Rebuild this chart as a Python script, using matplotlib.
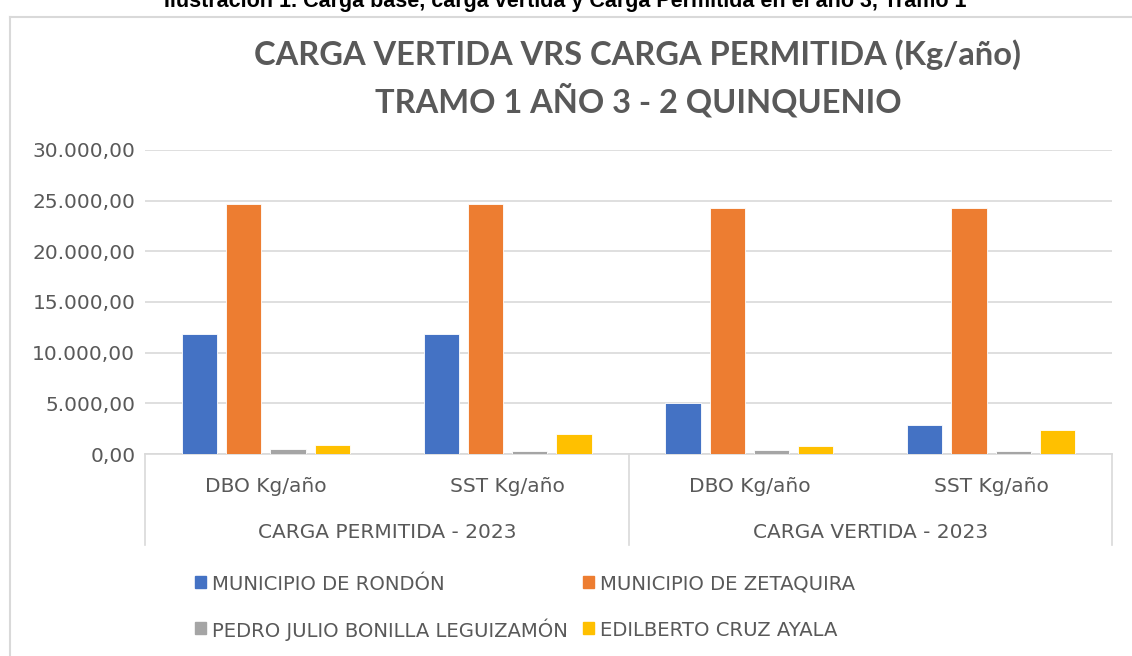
import numpy as np
import matplotlib.pyplot as plt
from matplotlib.patches import Rectangle
from matplotlib.lines import Line2D
from matplotlib.ticker import FuncFormatter

plt.rcParams['font.family'] = ['DejaVu Sans']

# data (Kg/año)
parametros = ["DBO Kg/año", "SST Kg/año", "DBO Kg/año", "SST Kg/año"]
grupos = ["CARGA PERMITIDA - 2023", "CARGA VERTIDA - 2023"]
series = ["MUNICIPIO DE RONDÓN", "MUNICIPIO DE ZETAQUIRA",
          "PEDRO JULIO BONILLA LEGUIZAMÓN", "EDILBERTO CRUZ AYALA"]
rondon = [11850, 11850, 5030, 2890]
zetaquira = [24650, 24650, 24300, 24300]
pedro = [460, 270, 430, 270]
edilberto = [890, 2000, 820, 2400]
colores = ["#4472C4", "#ED7D31", "#A5A5A5", "#FFC000"]

gris = "#595959"
linea = "#D9D9D9"
fs = 14.5
W, H = 1132, 656

fig = plt.figure(figsize=(11.32, 6.56), dpi=100)
ax = fig.add_axes([145/W, 1-454/H, (1112-145)/W, (454-150)/H])

x = np.arange(len(parametros))
paso = 0.183
ancho = 0.145
valores = [rondon, zetaquira, pedro, edilberto]
for i, (vals, c) in enumerate(zip(valores, colores)):
    ax.bar(x + (i - 1.5) * paso, vals, ancho, color=c, zorder=3,
           edgecolor='white', linewidth=0.6)

ax.set_xlim(-0.5, 3.5)
ax.set_ylim(0, 30000)
ax.set_yticks(np.arange(0, 30001, 5000))
fmt = lambda v, p: f"{v:,.2f}".replace(",", "X").replace(".", ",").replace("X", ".")
ax.yaxis.set_major_formatter(FuncFormatter(fmt))
ax.tick_params(axis='y', length=0, labelsize=fs, labelcolor=gris, pad=7)
ax.grid(axis='y', color=linea, linewidth=1.2, zorder=0)
ax.set_xticks([])
for s in ['top', 'right', 'left']:
    ax.spines[s].set_visible(False)
ax.spines['bottom'].set_color(linea)
ax.spines['bottom'].set_linewidth(1.2)

# category axis (two levels)
tr = ax.get_xaxis_transform()
for xi, lab in zip(x, parametros):
    ax.text(xi, -33/304, lab, transform=tr, ha='center', va='center',
            fontsize=fs, color=gris)
for g, lab in enumerate(grupos):
    ax.text(2 * g + 0.5, -79/304, lab, transform=tr, ha='center', va='center',
            fontsize=fs, color=gris)
for xv in [-0.5, 1.5, 3.5]:
    ax.plot([xv, xv], [0, -91/304], transform=tr, color=linea, lw=1.2, clip_on=False)

# titles
fig.text(638/W, 1-55/H, "CARGA VERTIDA VRS CARGA PERMITIDA (Kg/año)",
         ha='center', va='center', fontsize=23.5, fontweight='bold', color=gris,
         family='Lato')
fig.text(638/W, 1-100/H, "TRAMO 1 AÑO 3 - 2 QUINQUENIO",
         ha='center', va='center', fontsize=23.5, fontweight='bold', color=gris,
         family='Lato')
fig.text(565/W, 1-7/H,
         "Ilustración 1. Carga base, carga vertida y Carga Permitida en el año 3, Tramo 1",
         ha='center', va='baseline', fontsize=15.5, fontweight='bold', color='black',
         family='Liberation Sans')

# chart border
fig.add_artist(Line2D([10/W, 10/W], [0, 1-17/H], color=linea, lw=1.5))
fig.add_artist(Line2D([10/W, 1], [1-17/H, 1-17/H], color=linea, lw=1.5))

# legend, two rows of two entries
pos = [(195, 582), (583, 582), (195, 628), (583, 628)]
for (px, py), lab, c in zip(pos, series, colores):
    fig.add_artist(Rectangle((px/W, 1-(py+6)/H), 11/W, 12/H, color=c,
                             transform=fig.transFigure))
    fig.text((px+17)/W, 1-py/H, lab, ha='left', va='center_baseline',
             fontsize=14.1, color=gris)

fig.savefig("out.png", dpi=100)
